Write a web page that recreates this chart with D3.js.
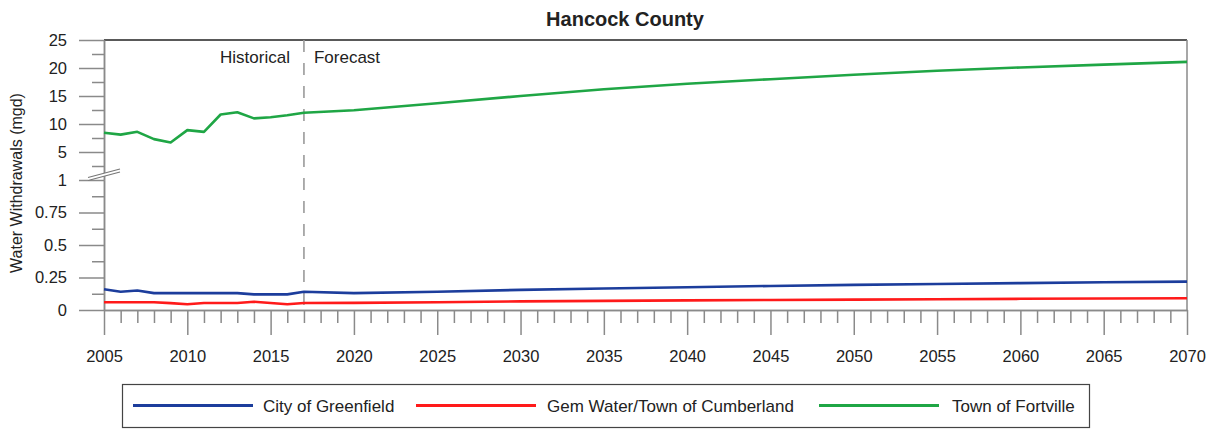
<!DOCTYPE html>
<html>
<head>
<meta charset="utf-8">
<script src="https://cdn.jsdelivr.net/npm/d3@7"></script>
<style>
  html, body { margin: 0; padding: 0; background: #fff; }
  svg { display: block; }
  text { font-family: "Liberation Sans", Arial, sans-serif; fill: #222; }
</style>
</head>
<body>
<svg id="chart" width="1215" height="429"></svg>
<script>
// Annual withdrawals (million gallons per day): historical through 2017, forecast after.
const years = [2005, 2006, 2007, 2008, 2009, 2010, 2011, 2012, 2013, 2014, 2015, 2016, 2017,
               2020, 2025, 2030, 2035, 2040, 2045, 2050, 2055, 2060, 2065, 2070];
const greenfield = [0.16, 0.14, 0.15, 0.13, 0.13, 0.13, 0.13, 0.13, 0.13, 0.12, 0.12, 0.12, 0.14,
                    0.13, 0.14, 0.155, 0.165, 0.175, 0.185, 0.193, 0.2, 0.207, 0.213, 0.218];
const cumberland = [0.06, 0.06, 0.06, 0.06, 0.053, 0.044, 0.054, 0.054, 0.054, 0.064, 0.054, 0.044, 0.054,
                    0.055, 0.06, 0.066, 0.07, 0.074, 0.077, 0.08, 0.083, 0.086, 0.088, 0.09];
const fortville = [8.45, 8.1, 8.6, 7.3, 6.7, 8.9, 8.6, 11.7, 12.1, 11.0, 11.2, 11.55, 12.0,
                   12.45, 13.7, 15.0, 16.2, 17.2, 18.0, 18.8, 19.5, 20.1, 20.6, 21.1];

const seriesNames = ["City of Greenfield", "Gem Water/Town of Cumberland", "Town of Fortville"];
const seriesColors = ["#1c3d9c", "#ff1a1a", "#1fa645"];

const xTicks = d3.range(2005, 2071, 5);
const lowerTicks = [0, 0.25, 0.5, 0.75, 1];
const upperTicks = [5, 10, 15, 20, 25];
const forecastStart = 2017;

const svg = d3.select("#chart");
const plotLeft = 104, plotRight = 1187, plotTop = 40, breakY = 180, plotBottom = 310;

const x = d3.scaleLinear().domain([2005, 2070]).range([plotLeft, plotRight]);
const yLow = d3.scaleLinear().domain([0, 1]).range([plotBottom, breakY]);
const yHigh = d3.scaleLinear().domain([0, 25]).range([breakY, plotTop]);

const gray = "#8a8a8a";

// Title
svg.append("text")
  .attr("x", 625).attr("y", 26)
  .attr("text-anchor", "middle")
  .style("font-size", "20px").style("font-weight", "bold")
  .text("Hancock County");

// Frame: top and right edges
svg.append("line").attr("x1", plotLeft).attr("x2", plotRight).attr("y1", plotTop).attr("y2", plotTop)
  .attr("stroke", "#222").attr("stroke-width", 1.3);
svg.append("line").attr("x1", plotRight).attr("x2", plotRight).attr("y1", plotTop).attr("y2", plotBottom)
  .attr("stroke", gray).attr("stroke-width", 1.5);

function styleAxis(g) {
  g.selectAll(".domain").attr("stroke", gray).attr("stroke-width", 1.5);
  g.selectAll(".tick line").attr("stroke", gray).attr("stroke-width", 1.5);
  g.selectAll(".tick text").style("font-size", "16.5px").attr("fill", "#222")
    .style("font-family", "'Liberation Sans', Arial, sans-serif");
}

// Minor ticks
const minorLow = d3.range(0.125, 1, 0.25);
const minorHigh = d3.range(2.5, 25, 5);
const minorX = d3.range(2005, 2071, 1).filter(d => (d - 2005) % 5 !== 0);

svg.append("g").attr("transform", `translate(${plotLeft},0)`)
  .call(d3.axisLeft(yLow).tickValues(minorLow).tickSize(12).tickFormat("").tickSizeOuter(0))
  .call(styleAxis);
svg.append("g").attr("transform", `translate(${plotLeft},0)`)
  .call(d3.axisLeft(yHigh).tickValues(minorHigh).tickSize(12).tickFormat("").tickSizeOuter(0))
  .call(styleAxis);
svg.append("g").attr("transform", `translate(0,${plotBottom})`)
  .call(d3.axisBottom(x).tickValues(minorX).tickSize(13).tickFormat("").tickSizeOuter(0))
  .call(styleAxis);

// Major ticks with labels
svg.append("g").attr("transform", `translate(${plotLeft},0)`)
  .call(d3.axisLeft(yLow).tickValues(lowerTicks).tickSize(25).tickPadding(12).tickSizeOuter(0)
    .tickFormat(d => String(d)))
  .call(styleAxis);
svg.append("g").attr("transform", `translate(${plotLeft},0)`)
  .call(d3.axisLeft(yHigh).tickValues(upperTicks).tickSize(25).tickPadding(12).tickSizeOuter(0)
    .tickFormat(d => String(d)))
  .call(styleAxis);
svg.append("g").attr("transform", `translate(0,${plotBottom})`)
  .call(d3.axisBottom(x).tickValues(xTicks).tickSize(25).tickPadding(15).tickSizeOuter(0)
    .tickFormat(d3.format("d")))
  .call(styleAxis);

// Axis break marks
const bx1 = 88, bx2 = 120;
svg.append("path")
  .attr("d", `M${bx1},${breakY + 0.5} L${bx2},${breakY - 8} L${bx2},${breakY - 11} L${bx1},${breakY - 2.5} Z`)
  .attr("fill", "#fff");
[0, -3].forEach(off => {
  svg.append("line")
    .attr("x1", bx1).attr("y1", breakY + 0.5 + off)
    .attr("x2", bx2).attr("y2", breakY - 8 + off)
    .attr("stroke", "#777").attr("stroke-width", 1.2);
});

// Y axis title
svg.append("text")
  .attr("transform", `translate(22,183) rotate(-90)`)
  .attr("text-anchor", "middle")
  .style("font-size", "16px")
  .text("Water Withdrawals (mgd)");

// Historical / forecast divider
svg.append("line")
  .attr("x1", x(forecastStart)).attr("x2", x(forecastStart))
  .attr("y1", plotTop).attr("y2", plotBottom)
  .attr("stroke", "#9a9a9a").attr("stroke-width", 1.6)
  .attr("stroke-dasharray", "12,11");
svg.append("text").attr("x", x(forecastStart) - 14).attr("y", 63)
  .attr("text-anchor", "end").style("font-size", "17px").text("Historical");
svg.append("text").attr("x", x(forecastStart) + 10).attr("y", 63)
  .attr("text-anchor", "start").style("font-size", "17px").text("Forecast");

// Series lines
const lineLow = d3.line().x((d, i) => x(years[i])).y(d => yLow(d));
const lineHigh = d3.line().x((d, i) => x(years[i])).y(d => yHigh(d));

svg.append("path").datum(greenfield).attr("d", lineLow)
  .attr("fill", "none").attr("stroke", seriesColors[0]).attr("stroke-width", 2.6)
  .attr("stroke-linejoin", "round");
svg.append("path").datum(cumberland).attr("d", lineLow)
  .attr("fill", "none").attr("stroke", seriesColors[1]).attr("stroke-width", 2.6)
  .attr("stroke-linejoin", "round");
svg.append("path").datum(fortville).attr("d", lineHigh)
  .attr("fill", "none").attr("stroke", seriesColors[2]).attr("stroke-width", 2.6)
  .attr("stroke-linejoin", "round");

// Legend
const legend = svg.append("g");
legend.append("rect")
  .attr("x", 122.5).attr("y", 384.5).attr("width", 967).attr("height", 43)
  .attr("fill", "#fff").attr("stroke", "#444").attr("stroke-width", 1.2);
const legendItems = [
  { lx: 133, tx: 263 },
  { lx: 416, tx: 547 },
  { lx: 819, tx: 952 }
];
legendItems.forEach((it, i) => {
  legend.append("line")
    .attr("x1", it.lx).attr("x2", it.lx + 120)
    .attr("y1", 405.5).attr("y2", 405.5)
    .attr("stroke", seriesColors[i]).attr("stroke-width", 3);
  legend.append("text")
    .attr("x", it.tx).attr("y", 411.5)
    .style("font-size", "17px")
    .text(seriesNames[i]);
});
</script>
</body>
</html>
